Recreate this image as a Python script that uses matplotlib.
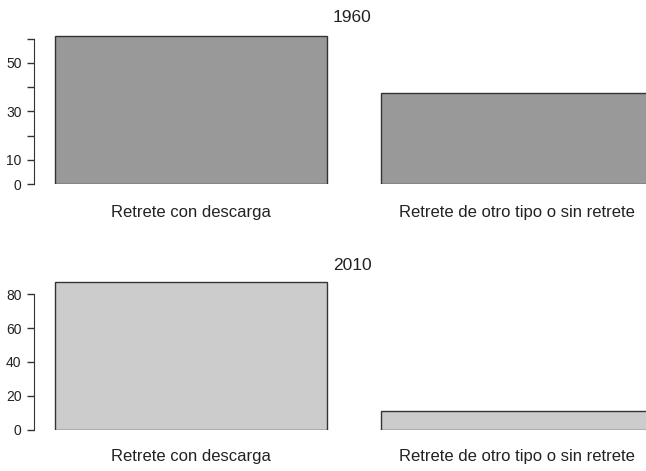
import matplotlib
matplotlib.use("Agg")
import matplotlib.pyplot as plt

# ---- data ----
categories = ["Retrete con descarga", "Retrete de otro tipo o sin retrete"]
years = ["1960", "2010"]
values_1960 = [61.2, 37.7]
values_2010 = [87.2, 10.8]
bar_colors = ["#999999", "#cccccc"]

yticks_1960 = [0, 10, 20, 30, 40, 50, 60]
ylabels_1960 = ["0", "10", "", "30", "", "50", ""]
yticks_2010 = [0, 20, 40, 60, 80]
ylabels_2010 = ["0", "20", "40", "60", "80"]

plt.rcParams["font.family"] = ["Liberation Sans", "DejaVu Sans"]
TXT = "#222222"

W, H = 646, 471
fig = plt.figure(figsize=(W / 100, H / 100), dpi=100)

# R barplot-style geometry: width 1, space 0.2
xpos = [0.2 + 0.5, 1.4 + 0.5]
px_per_unit = 272.0
ax_left_px = 34
x0 = 0.2 - (55 - ax_left_px) / px_per_unit
x1 = 0.2 + (W - 55) / px_per_unit


def panel(bottom_px, zero_px, px_per_y, ymax, vals, color, year, ticks, labels,
          title_y, label_y):
    top_px = zero_px - ymax * px_per_y
    ax = fig.add_axes([ax_left_px / W, (H - zero_px) / H,
                       (W - ax_left_px) / W, (zero_px - top_px) / H])
    ax.bar(xpos, vals, width=1.0, color=color, edgecolor="#333333", linewidth=1.0)
    ax.set_xlim(x0, x1)
    ax.set_ylim(0, ymax)
    for s in ["top", "right", "bottom"]:
        ax.spines[s].set_visible(False)
    ax.spines["left"].set_bounds(ticks[0], ticks[-1])
    ax.spines["left"].set_color("#333333")
    ax.set_xticks([])
    ax.set_yticks(ticks)
    ax.set_yticklabels(labels)
    ax.tick_params(axis="y", length=5, width=1, color="#333333", labelsize=10,
                   labelcolor=TXT, pad=4)
    fig.text(352 / W, 1 - title_y / H, year, ha="center", va="center",
             fontsize=12.5, color=TXT)
    for xp, cat in zip([191, 517], categories):
        fig.text(xp / W, 1 - label_y / H, cat, ha="center", va="center",
                 fontsize=12, color=TXT)
    return ax


panel(None, 184, 2.42, 62, values_1960, bar_colors[0], years[0],
      yticks_1960, ylabels_1960, 17, 213)
panel(None, 429.5, 1.69, 88, values_2010, bar_colors[1], years[1],
      yticks_2010, ylabels_2010, 265, 457)

fig.savefig("out.png", dpi=100)
